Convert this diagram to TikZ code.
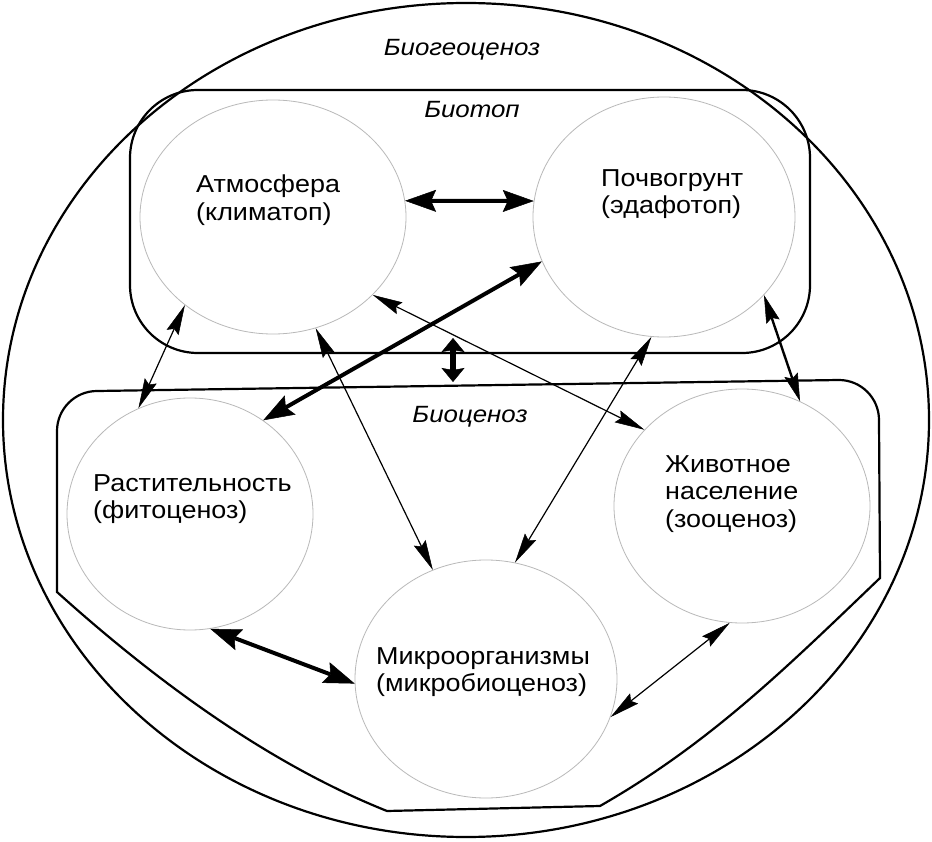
\documentclass[tikz,border=0pt]{standalone}
\usepackage{fontspec}
\setmainfont{Liberation Sans}[FakeStretch=1.1]
\usetikzlibrary{shapes.geometric,arrows.meta}

\begin{document}
\begin{tikzpicture}[x=1pt, y=-1pt,
    sphere/.style={shape=ellipse, draw=gray!55, line width=0.8pt, inner sep=0pt},
    txt/.style={anchor=west, align=left, inner sep=0pt, font=\fontsize{24.5}{27.5}\selectfont},
    ttl/.style={inner sep=0pt, font=\fontsize{23.5}{27}\selectfont\itshape},
    link/.style={line width=1.2pt, {Stealth[length=30pt,width=13pt,inset=4pt,line width=0.5pt]}-{Stealth[length=30pt,width=13pt,inset=4pt,line width=0.5pt]}},
    midlink/.style={line width=2.4pt, {Stealth[length=28pt,width=14pt,inset=4pt,line width=0.5pt]}-{Stealth[length=28pt,width=14pt,inset=4pt,line width=0.5pt]}},
    boldlink/.style={line width=4pt, {Stealth[length=31pt,width=22pt,inset=5pt,line width=0.5pt]}-{Stealth[length=31pt,width=22pt,inset=5pt,line width=0.5pt]}},
    stublink/.style={line width=6pt, {Stealth[length=14pt,width=23pt,inset=2pt,line width=0.5pt]}-{Stealth[length=14pt,width=23pt,inset=2pt,line width=0.5pt]}}]
  \fill[white] (0,0) rectangle (932,842);
  \useasboundingbox (0,0) rectangle (932,842);

  % outer ring
  \draw[line width=2.2pt] (466,420) ellipse [x radius=463, y radius=417];
  \node[ttl] (biogeo) at (462,50) {Биогеоценоз};

  % biotop
  \node[draw, line width=2.2pt, rounded corners=68pt, minimum width=680pt, minimum height=263pt] (biotop) at (470,221.5) {};
  \node[ttl] (biotoplbl) at (472,110) {Биотоп};

  % biocenosis
  \draw[line width=2.2pt] (57,592) -- (57,431) .. controls (57,409) and (75,391) .. (97,391)
    -- (839,380) .. controls (861,380) and (879,398) .. (879,420) -- (880,578)
    .. controls (785,669) and (710,743) .. (600,806) -- (387,811)
    .. controls (277,767) and (167,691) .. cycle;
  \node[ttl] (biocenlbl) at (470,417) {Биоценоз};

  % spheres
  \node[sphere, minimum width=266pt, minimum height=234pt] (atm) at (273,217) {};
  \node[sphere, minimum width=262pt, minimum height=240pt] (poch) at (664,217) {};
  \node[sphere, minimum width=246pt, minimum height=232pt] (rast) at (190,514) {};
  \node[sphere, minimum width=256pt, minimum height=234pt] (zhiv) at (742,506) {};
  \node[sphere, minimum width=262pt, minimum height=238pt] (micro) at (486,679) {};

  \node[txt] (atmtxt) at (196,200) {Атмосфера\\(климатоп)};
  \node[txt] (pochtxt) at (601,194) {Почвогрунт\\(эдафотоп)};
  \node[txt] (rasttxt) at (93,499) {Растительность\\(фитоценоз)};
  \node[txt] (zhivtxt) at (665,494) {Животное\\население\\(зооценоз)};
  \node[txt] (microtxt) at (376,672) {Микроорганизмы\\(микробиоценоз)};

  % links
  \coordinate (gapT) at (453,338);
  \coordinate (gapB) at (453,382);
  \draw[boldlink] (atm.7) -- (poch.173);
  \draw[boldlink] (rast.52) -- (poch.200);
  \draw[stublink] (gapT) -- (gapB);
  \draw[link] (atm.-69) -- (micro.116);
  \draw[link] (atm.-38) -- (zhiv.142);
  \draw[link] (poch.264) -- (micro.76);
  \draw[midlink] (poch.-38) -- (zhiv.61);
  \draw[link] (atm.225) -- (rast.116);
  \draw[boldlink] (rast.-80) -- (micro.182);
  \draw[link] (micro.-17) -- (zhiv.264);
\end{tikzpicture}
\end{document}
